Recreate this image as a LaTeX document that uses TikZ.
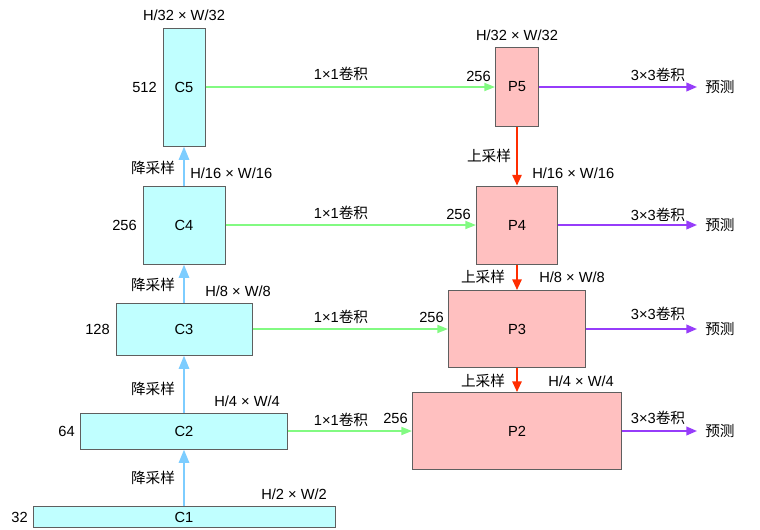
\documentclass[tikz,border=0pt]{standalone}
\usepackage{fontspec}
\setmainfont{Liberation Sans}
\newfontfamily\cjk{Noto Sans CJK SC}
\usepackage{xcolor}
\usetikzlibrary{arrows.meta}

\definecolor{cfill}{RGB}{192,255,255}
\definecolor{pfill}{RGB}{255,192,192}
\definecolor{boxgray}{RGB}{95,95,95}
\definecolor{downblue}{RGB}{125,205,255}
\definecolor{latgreen}{RGB}{130,250,130}
\definecolor{upred}{RGB}{255,45,0}
\definecolor{predpurple}{RGB}{150,60,250}

\begin{document}
\begin{tikzpicture}[x=0.75pt,y=0.75pt,yscale=-1,xscale=1,
  font=\fontsize{11}{13}\selectfont,
  cbox/.style 2 args={draw=boxgray,fill=cfill,line width=0.75pt,minimum width=#1*0.75pt,minimum height=#2*0.75pt,inner sep=0pt},
  pbox/.style 2 args={draw=boxgray,fill=pfill,line width=0.75pt,minimum width=#1*0.75pt,minimum height=#2*0.75pt,inner sep=0pt},
  txt/.style={inner sep=0.75pt},
  downarr/.style={draw=downblue,line width=2pt,-{Triangle[length=10pt,width=7.5pt,fill=downblue]}},
  latarr/.style={draw=latgreen,line width=1.3pt,-{Triangle[length=8pt,width=6pt,fill=latgreen]}},
  uparr/.style={draw=upred,line width=1.3pt,-{Triangle[length=8pt,width=7pt,fill=upred]}},
  predarr/.style={draw=predpurple,line width=1.3pt,-{Triangle[length=8pt,width=6.5pt,fill=predpurple]}}]
\useasboundingbox (0,0) rectangle (760,529);

%Shape: Rectangle [C column]
\node [cbox={42}{118}] (C5) at (184,87) {C5};
\node [cbox={82}{78}] (C4) at (184,225) {C4};
\node [cbox={136}{52}] (C3) at (184,329) {C3};
\node [cbox={207}{36}] (C2) at (184,431) {C2};
\node [cbox={302}{21}] (C1) at (184,517) {C1};
%Shape: Rectangle [P column]
\node [pbox={43}{79}] (P5) at (517,87) {P5};
\node [pbox={81}{78}] (P4) at (517,225) {P4};
\node [pbox={137}{77}] (P3) at (517,329) {P3};
\node [pbox={209}{77}] (P2) at (517,431) {P2};

% Text Node
\node [txt,anchor=east] (c5ch) at (158,87) {512};
\node [txt,anchor=east] (c4ch) at (138,225) {256};
\node [txt,anchor=east] (c3ch) at (111,329) {128};
\node [txt,anchor=east] (c2ch) at (76,431) {64};
\node [txt,anchor=east] (c1ch) at (29,517) {32};
% Text Node
\node [txt] (c5size) at (184,15) {H/32 × W/32};
\node [txt,anchor=west] (c4size) at (189,173) {H/16 × W/16};
\node [txt,anchor=west] (c3size) at (204,291) {H/8 × W/8};
\node [txt,anchor=west] (c2size) at (213,401) {H/4 × W/4};
\node [txt,anchor=west] (c1size) at (260,494) {H/2 × W/2};
% Text Node
\node [txt] (down5) at (153,168) {\cjk 降采样};
\node [txt] (down4) at (153,285) {\cjk 降采样};
\node [txt] (down3) at (153,389) {\cjk 降采样};
\node [txt] (down2) at (153,478) {\cjk 降采样};
% Text Node
\node [txt] (p5size) at (517,35) {H/32 × W/32};
\node [txt,anchor=west] (p4size) at (531,173) {H/16 × W/16};
\node [txt,anchor=west] (p3size) at (538,277) {H/8 × W/8};
\node [txt,anchor=west] (p2size) at (547,381) {H/4 × W/4};
\node [txt] (up4) at (489,156) {\cjk 上采样};
\node [txt] (up3) at (483,277) {\cjk 上采样};
\node [txt] (up2) at (483,381) {\cjk 上采样};
% Text Node
\node [txt,anchor=east] (p5ch) at (492,76) {256};
\node [txt,anchor=east] (p4ch) at (472,214) {256};
\node [txt,anchor=east] (p3ch) at (445,317) {256};
\node [txt,anchor=east] (p2ch) at (409,418) {256};
% Text Node
\node [txt] (lat5) at (341,74) {1×1{\cjk 卷积}};
\node [txt] (lat4) at (341,213) {1×1{\cjk 卷积}};
\node [txt] (lat3) at (341,317) {1×1{\cjk 卷积}};
\node [txt] (lat2) at (341,420) {1×1{\cjk 卷积}};
% Text Node
\node [txt] (conv5) at (658,75) {3×3{\cjk 卷积}};
\node [txt] (conv4) at (658,215) {3×3{\cjk 卷积}};
\node [txt] (conv3) at (658,314) {3×3{\cjk 卷积}};
\node [txt] (conv2) at (658,418) {3×3{\cjk 卷积}};
\node [anchor=west,inner ysep=0.75pt,inner xsep=6pt] (pred5) at (697,87) {\cjk 预测};
\node [anchor=west,inner ysep=0.75pt,inner xsep=6pt] (pred4) at (697,225) {\cjk 预测};
\node [anchor=west,inner ysep=0.75pt,inner xsep=6pt] (pred3) at (697,329) {\cjk 预测};
\node [anchor=west,inner ysep=0.75pt,inner xsep=6pt] (pred2) at (697,431) {\cjk 预测};

%Straight Lines [bottom-up]
\draw [downarr] (C1) -- (C2);
\draw [downarr] (C2) -- (C3);
\draw [downarr] (C3) -- (C4);
\draw [downarr] (C4) -- (C5);
%Straight Lines [lateral]
\draw [latarr] (C5) -- (P5);
\draw [latarr] (C4) -- (P4);
\draw [latarr] (C3) -- (P3);
\draw [latarr] (C2) -- (P2);
%Straight Lines [top-down]
\draw [uparr] (P5) -- (P4);
\draw [uparr] (P4) -- (P3);
\draw [uparr] (P3) -- (P2);
%Straight Lines [prediction]
\draw [predarr] (P5) -- (pred5);
\draw [predarr] (P4) -- (pred4);
\draw [predarr] (P3) -- (pred3);
\draw [predarr] (P2) -- (pred2);

\end{tikzpicture}
\end{document}
